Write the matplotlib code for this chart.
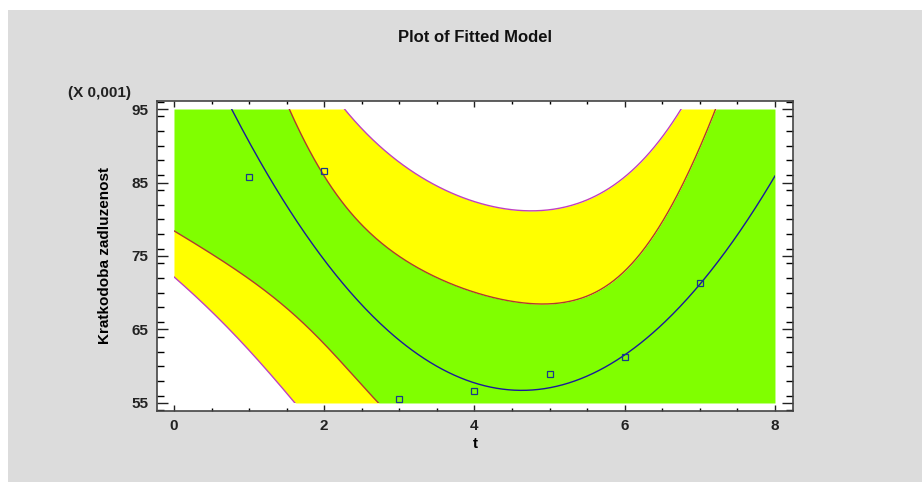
import numpy as np
import matplotlib
matplotlib.use("Agg")
import matplotlib.pyplot as plt
from matplotlib.patches import Rectangle
from matplotlib.ticker import MultipleLocator

plt.rcParams["font.family"] = ["Liberation Sans", "DejaVu Sans"]
plt.rcParams["font.weight"] = "bold"

# observed data (y shown in units of 0.001)
t_obs = [1, 2, 3, 4, 5, 6, 7]
y_obs = [85.8, 86.5, 55.5, 56.6, 59.0, 61.3, 71.3]
x_ticks = [0, 2, 4, 6, 8]
y_ticks = [55, 65, 75, 85, 95]
t_crit = 2.776  # t(0.975, df=4)

# quadratic fit with 95% confidence / prediction limits
t_arr = np.array(t_obs, dtype=float)
y_arr = np.array(y_obs)
X = np.column_stack([np.ones_like(t_arr), t_arr, t_arr ** 2])
beta, res, rank, sv = np.linalg.lstsq(X, y_arr, rcond=None)
dof = len(t_arr) - 3
s2 = np.sum((y_arr - X @ beta) ** 2) / dof
XtX_inv = np.linalg.inv(X.T @ X)

xs = np.linspace(0, 8, 400)
Xs = np.column_stack([np.ones_like(xs), xs, xs ** 2])
fit = Xs @ beta
h = np.einsum("ij,jk,ik->i", Xs, XtX_inv, Xs)
conf = t_crit * np.sqrt(s2 * h)
pred = t_crit * np.sqrt(s2 * (1 + h))
lcl, ucl = fit - conf, fit + conf
lpl, upl = fit - pred, fit + pred

fig = plt.figure(figsize=(9.22, 4.82), dpi=100)
fig.patch.set_facecolor("white")
fig.patches.append(Rectangle((8 / 922, 0), 1, 1 - 10 / 482, transform=fig.transFigure,
                             facecolor="#dcdcdc", edgecolor="none", zorder=-10))

ax = fig.add_axes([157 / 922, 1 - 411 / 482, 636 / 922, 310 / 482])
ax.set_facecolor("white")
ax.set_xlim(-0.226, 8.24)
ax.set_ylim(53.91, 96.09)

lo, hi = 55, 95
c = lambda v: np.clip(v, lo, hi)
ax.fill_between(xs, c(lpl), c(lcl), color="#ffff00", lw=0)
ax.fill_between(xs, c(lcl), c(ucl), color="#80ff00", lw=0)
ax.fill_between(xs, c(ucl), c(upl), color="#ffff00", lw=0)

clip = Rectangle((0, lo), 8, hi - lo, transform=ax.transData)
lines = []
lines += ax.plot(xs, lcl, color="#b03a2e", lw=1)
lines += ax.plot(xs, ucl, color="#b03a2e", lw=1)
lines += ax.plot(xs, lpl, color="#c040c0", lw=1)
lines += ax.plot(xs, upl, color="#c040c0", lw=1)
lines += ax.plot(xs, fit, color="#1a1a9a", lw=1)
for ln in lines:
    ln.set_clip_path(clip)

ax.plot(t_obs, y_obs, "s", ms=4, mfc="none", mec="#1a3a8a", mew=0.9)

ax.set_xticks(x_ticks)
ax.set_yticks(y_ticks)
ax.xaxis.set_minor_locator(MultipleLocator(0.5))
ax.yaxis.set_minor_locator(MultipleLocator(2))
ax.tick_params(axis="x", which="major", direction="in", top=True, length=4.5, width=1,
               labelsize=11, pad=6, colors="#222222")
ax.tick_params(axis="x", which="minor", direction="in", top=True, length=2.5, width=1)
ax.tick_params(axis="y", which="major", direction="in", right=True, length=8, width=1,
               labelsize=11, pad=6, colors="#222222")
ax.tick_params(axis="y", which="minor", direction="in", right=True, length=5, width=1)
for lab in ax.get_xticklabels() + ax.get_yticklabels():
    lab.set_fontweight("bold")
for sp in ax.spines.values():
    sp.set_color("#444444")
    sp.set_linewidth(1.2)

ax.set_xlabel("t", fontsize=11, fontweight="bold", labelpad=3)
ax.set_ylabel("Kratkodoba zadluzenost", fontsize=11, fontweight="bold", labelpad=14)
fig.text(475 / 922, 1 - 38 / 482, "Plot of Fitted Model", ha="center", va="center",
         fontsize=12, fontweight="bold", color="#111111")
fig.text(68 / 922, 1 - 93 / 482, "(X 0,001)", ha="left", va="center",
         fontsize=11, fontweight="bold", color="#222222")

fig.savefig("out.png", dpi=100, facecolor=fig.get_facecolor())
